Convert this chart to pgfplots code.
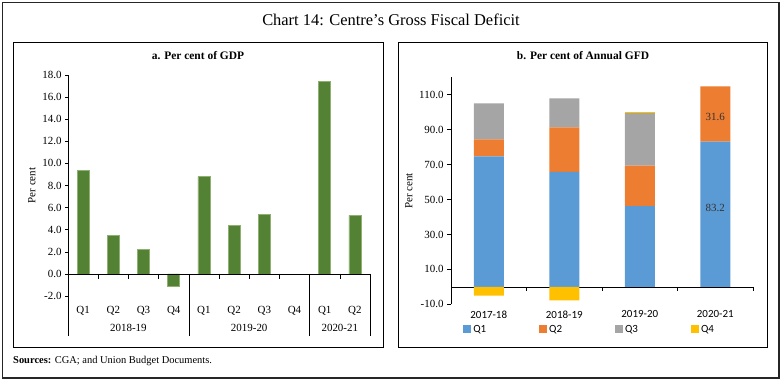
\documentclass[border=0pt]{standalone}
\usepackage{fontspec}
\setmainfont{Liberation Serif}
\newfontfamily\carlito{Carlito}
\usepackage{pgfplots}
\pgfplotsset{compat=1.18}
\definecolor{barG}{HTML}{548235}
\definecolor{barGl}{HTML}{8FB070}
\definecolor{cQ1}{HTML}{5B9BD5}
\definecolor{cQ2}{HTML}{ED7D31}
\definecolor{cQ3}{HTML}{A5A5A5}
\definecolor{cQ4}{HTML}{FFC000}
\newcommand\tf{\fontsize{11}{13}\selectfont}
\begin{document}
\begin{tikzpicture}[x=1bp,y=1bp]
\useasboundingbox (0,0) rectangle (782,382);
\draw[line width=1.2bp, black!85] (2.5,4) rectangle (779,379.5);
\node[font=\fontsize{16.5}{19}\selectfont] at (391,362) {Chart 14: Centre's Gross Fiscal Deficit};
\draw[line width=1bp] (13,35) rectangle (383,340);
\draw[line width=1bp] (398,35) rectangle (767,340);
\node[font=\bfseries\fontsize{11.5}{13}\selectfont] at (198,326) {a. Per cent of GDP};
\node[font=\bfseries\fontsize{11.5}{13}\selectfont] at (583,326) {b. Per cent of Annual GFD};
\node[anchor=west, font=\fontsize{10.5}{12}\selectfont, inner sep=0] at (13,21) {\textbf{Sources:} CGA; and Union Budget Documents.};

% ---------- Left panel ----------
\begin{axis}[
  at={(68bp,86bp)}, anchor=south west, scale only axis,
  width=302bp, height=221bp,
  xmin=-0.5, xmax=9.5, ymin=-2, ymax=18,
  axis y line*=left, axis x line*=bottom, x axis line style={draw=none},
  xtick={0,...,9}, xticklabels={Q1,Q2,Q3,Q4,Q1,Q2,Q3,Q4,Q1,Q2},
  xtick style={draw=none}, xticklabel style={font=\tf, yshift=-4bp},
  ytick={-2,0,...,18}, ytick style={black, line width=0.6bp},
  yticklabel style={font=\tf, /pgf/number format/.cd, fixed, fixed zerofill, precision=1, assume math mode=true},
  tick align=outside, major tick length=3bp,
  ylabel={Per cent}, ylabel style={font=\tf},
  y axis line style={line width=0.6bp},
  clip=false, ybar, bar width=12bp, bar shift=0pt,
]
\addplot[fill=barG, draw=barGl, line width=0.6bp] coordinates {(0,9.4) (1,3.5) (2,2.2) (3,-1.1) (4,8.8) (5,4.4) (6,5.4) (8,17.4) (9,5.3)};
\draw[line width=0.6bp] (axis cs:-0.5,0) -- (axis cs:9.5,0);
\pgfplotsinvokeforeach{0.5,1.5,2.5,4.5,5.5,6.5,8.5}{\draw[line width=0.6bp] (axis cs:#1,0) -- ++(0bp,-5bp);}
\pgfplotsinvokeforeach{-0.5,3.5,7.5,9.5}{\draw[line width=0.6bp] (axis cs:#1,0) -- ++(0bp,-62bp);}
\node[font=\tf] at (axis cs:1.5,0) [yshift=-54bp] {2018-19};
\node[font=\tf] at (axis cs:5.5,0) [yshift=-54bp] {2019-20};
\node[font=\tf] at (axis cs:8.5,0) [yshift=-54bp] {2020-21};
\end{axis}

% ---------- Right panel ----------
\begin{axis}[
  at={(451bp,77.7bp)}, anchor=south west, scale only axis,
  width=302bp, height=227bp,
  xmin=-0.5, xmax=3.5, ymin=-10, ymax=120,
  axis y line*=left, axis x line*=bottom, x axis line style={draw=none},
  xtick={0,1,2,3}, xticklabels={2017-18,2018-19,2019-20,2020-21},
  xtick style={draw=none}, xticklabel style={font=\carlito\tf, yshift=1bp},
  ytick={-10,10,...,110}, ytick style={black, line width=0.6bp},
  yticklabel style={font=\tf, /pgf/number format/.cd, fixed, fixed zerofill, precision=1, assume math mode=true},
  tick align=outside, major tick length=4bp,
  ylabel={Per cent}, ylabel style={font=\tf},
  y axis line style={line width=0.6bp},
  clip=false, ybar stacked, bar width=30bp,
  legend style={draw=none, at={(0.04,-0.11)}, anchor=west, font=\carlito\tf,
    legend columns=4, /tikz/every even column/.append style={column sep=51bp},
    inner sep=0pt},
  legend image code/.code={\fill[#1] (0bp,-4bp) rectangle (8bp,4bp);},
]
\addplot[fill=cQ1, draw=none] coordinates {(0,74.7) (1,65.8) (2,46.2) (3,83.2)};
\addplot[fill=cQ2, draw=none] coordinates {(0,9.8) (1,25.5) (2,23.2) (3,31.6)};
\addplot[fill=cQ3, draw=none] coordinates {(0,20.5) (1,16.7) (2,30.1) (3,0)};
\addplot[fill=cQ4, draw=none] coordinates {(0,0) (1,0) (2,0.5) (3,0)};
\legend{Q1,Q2,Q3,Q4}
\draw[line width=0.6bp] (axis cs:-0.5,0) -- (axis cs:3.5,0);
\pgfplotsinvokeforeach{0.5,1.5,2.5,3.5}{\draw[line width=0.6bp] (axis cs:#1,0) -- ++(0bp,-4bp);}
\end{axis}
\begin{axis}[
  at={(451bp,77.7bp)}, anchor=south west, scale only axis,
  width=302bp, height=227bp,
  xmin=-0.5, xmax=3.5, ymin=-10, ymax=120,
  hide axis, ybar, bar width=30bp, bar shift=0pt, clip=false,
]
\addplot[fill=cQ4, draw=none] coordinates {(0,-5.1) (1,-7.7)};
\node[font=\tf, text=black!80] at (axis cs:3,97.2) {31.6};
\node[font=\tf, text=black!80] at (axis cs:3,45.4) {83.2};
\end{axis}
\end{tikzpicture}
\end{document}
